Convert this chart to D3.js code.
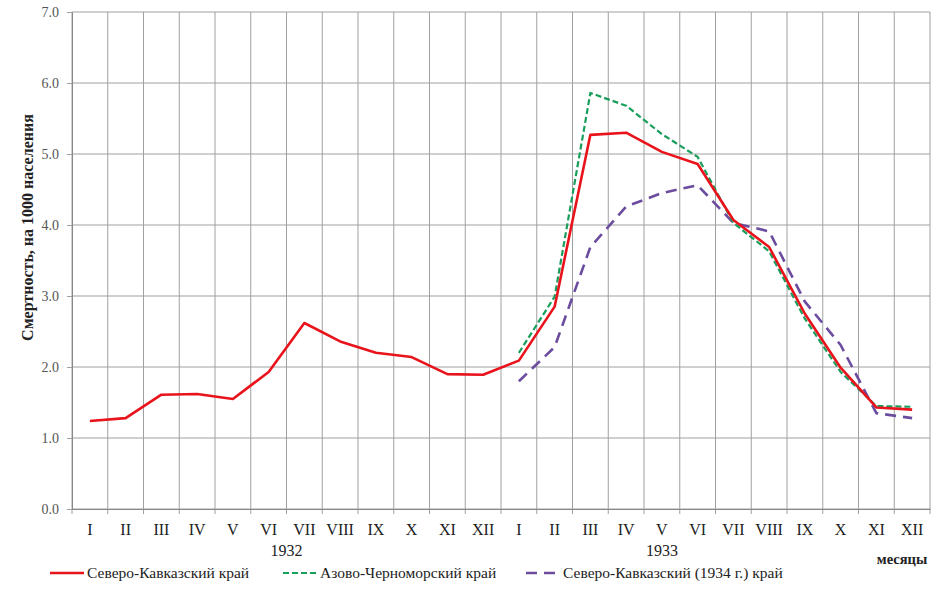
<!DOCTYPE html>
<html>
<head>
<meta charset="utf-8">
<script src="https://cdn.jsdelivr.net/npm/d3@7"></script>
<style>
  html, body { margin: 0; padding: 0; background: #fff; }
  svg { display: block; }
</style>
</head>
<body>
<script>
const months = ['I', 'II', 'III', 'IV', 'V', 'VI', 'VII', 'VIII', 'IX', 'X', 'XI', 'XII'];
const years = ['1932', '1933'];
const yTicks = [0, 1, 2, 3, 4, 5, 6, 7];

// Северо-Кавказский край, I.1932 - XII.1933
const northCaucasus = [1.24, 1.28, 1.61, 1.62, 1.55, 1.93, 2.62, 2.36, 2.20, 2.14, 1.90, 1.89,
                       2.09, 2.85, 5.27, 5.30, 5.03, 4.86, 4.07, 3.69, 2.75, 1.99, 1.43, 1.40];
// Азово-Черноморский край, 1933 only
const azovBlackSea = [2.20, 2.99, 5.86, 5.68, 5.28, 4.96, 4.03, 3.63, 2.68, 1.93, 1.45, 1.44];
// Северо-Кавказский (1934 г.) край, 1933 only
const northCaucasus1934 = [1.80, 2.28, 3.69, 4.26, 4.45, 4.56, 4.03, 3.91, 2.92, 2.31, 1.35, 1.28];

const W = 942, H = 604;
const margin = { t: 12, r: 12, b: 95, l: 72 };
const innerWidth = W - margin.l - margin.r;
const innerHeight = H - margin.t - margin.b;
const serif = "'Liberation Serif', 'Times New Roman', 'DejaVu Serif', serif";

const cats = [];
years.forEach(yr => months.forEach(m => cats.push(yr + '-' + m)));

const x = d3.scaleBand().range([0, innerWidth]).domain(cats);
const y = d3.scaleLinear().range([innerHeight, 0]).domain([0, 7]);
const cx = i => x(cats[i]) + x.bandwidth() / 2;

const svg = d3.select('body')
  .append('svg')
  .attr('width', W)
  .attr('height', H)
  .attr('font-family', serif);

const plot = svg.append('g')
  .attr('transform', `translate(${margin.l}, ${margin.t})`);

// horizontal grid
plot.append('g')
  .selectAll('line')
  .data(yTicks)
  .join('line')
  .attr('x1', 0)
  .attr('x2', innerWidth)
  .attr('y1', d => y(d))
  .attr('y2', d => y(d))
  .attr('stroke', '#a0a0a0')
  .attr('stroke-width', 1);

// vertical grid at category boundaries
const bounds = d3.range(cats.length + 1).map(i => i * x.step());
plot.append('g')
  .selectAll('line')
  .data(bounds)
  .join('line')
  .attr('x1', d => d)
  .attr('x2', d => d)
  .attr('y1', 0)
  .attr('y2', innerHeight + 5)
  .attr('stroke', '#a0a0a0')
  .attr('stroke-width', 1);

// axes
const axisY = d3.axisLeft(y).tickValues(yTicks).tickFormat(d3.format('.1f')).tickSize(5).tickPadding(8);
plot.append('g')
  .call(axisY)
  .attr('font-family', serif)
  .attr('font-size', 14)
  .call(g => g.select('.domain').attr('stroke', '#888'))
  .call(g => g.selectAll('.tick line').attr('stroke', '#a0a0a0'))
  .call(g => g.selectAll('.tick text').attr('fill', '#555'));

const axisX = d3.axisBottom(x).tickFormat(d => d.split('-')[1]).tickSize(0).tickPadding(15);
plot.append('g')
  .attr('transform', `translate(0, ${innerHeight})`)
  .call(axisX)
  .attr('font-family', serif)
  .attr('font-size', 16)
  .call(g => g.select('.domain').attr('stroke', '#888'))
  .call(g => g.selectAll('.tick text').attr('fill', '#222'));

// year labels
svg.append('text')
  .attr('x', margin.l + x(cats[6]))
  .attr('y', 556)
  .attr('text-anchor', 'middle')
  .attr('font-size', 16)
  .attr('fill', '#222')
  .text(years[0]);
svg.append('text')
  .attr('x', margin.l + cx(16))
  .attr('y', 556)
  .attr('text-anchor', 'middle')
  .attr('font-size', 16)
  .attr('fill', '#222')
  .text(years[1]);

svg.append('text')
  .attr('x', 902)
  .attr('y', 564)
  .attr('text-anchor', 'middle')
  .attr('font-size', 14.5)
  .attr('font-weight', 'bold')
  .attr('fill', '#222')
  .text('месяцы');

svg.append('text')
  .attr('transform', `translate(33, ${margin.t + innerHeight / 2 - 33}) rotate(-90)`)
  .attr('text-anchor', 'middle')
  .attr('font-size', 16)
  .attr('font-weight', 'bold')
  .attr('fill', '#222')
  .text('Смертность, на 1000 населения');

// lines
const line = d3.line().x(d => cx(d.i)).y(d => y(d.v));

const series = [
  { name: 'Северо-Кавказский край', values: northCaucasus, offset: 0, color: '#e8131b', width: 2.6, dash: null },
  { name: 'Азово-Черноморский край', values: azovBlackSea, offset: 12, color: '#1a9e5c', width: 2.2, dash: '6,3' },
  { name: 'Северо-Кавказский (1934 г.) край', values: northCaucasus1934, offset: 12, color: '#6b4c9e', width: 2.6, dash: '11,7' }
];

// purple at the bottom, red on top
[series[2], series[1], series[0]].forEach(s => {
  plot.append('path')
    .datum(s.values.map((v, k) => ({ i: k + s.offset, v })))
    .attr('fill', 'none')
    .attr('stroke', s.color)
    .attr('stroke-width', s.width)
    .attr('stroke-dasharray', s.dash)
    .attr('stroke-linejoin', 'round')
    .attr('d', line);
});

// legend
const legendPos = [50, 283, 526];
const legend = svg.append('g').attr('transform', 'translate(0, 573)');
series.forEach((s, k) => {
  legend.append('line')
    .attr('x1', legendPos[k])
    .attr('x2', legendPos[k] + 34)
    .attr('y1', 0)
    .attr('y2', 0)
    .attr('stroke', s.color)
    .attr('stroke-width', s.width)
    .attr('stroke-dasharray', s.dash);
  legend.append('text')
    .attr('x', legendPos[k] + 37)
    .attr('y', 5)
    .attr('font-size', 15.5)
    .attr('fill', '#222')
    .text(s.name);
});
</script>
</body>
</html>
